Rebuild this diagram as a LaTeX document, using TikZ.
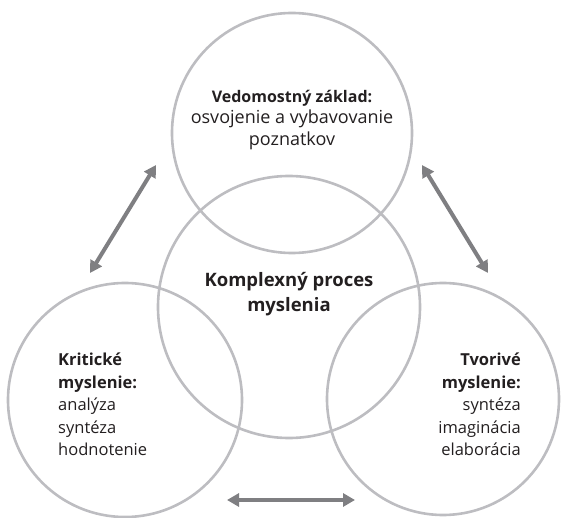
\documentclass[tikz,border=0pt]{standalone}
\usepackage{fontspec}
\setmainfont{Open Sans}
\usepackage{tikz}
\usetikzlibrary{arrows.meta}
\definecolor{KRing}{HTML}{BDBDC1}
\definecolor{KArrow}{HTML}{7F7F82}
\definecolor{KText}{HTML}{231F20}
\tikzset{
  ring/.style={circle,draw=KRing,line width=2.6pt,inner sep=0pt},
  link/.style={KArrow,line width=4pt,{Triangle[length=12pt,width=13pt]}-{Triangle[length=12pt,width=13pt]}},
  lbl/.style={text=KText,font=\fontsize{16.5}{22.5}\selectfont,inner sep=0pt}
}
\begin{document}
\begin{tikzpicture}[x=1pt,y=-1pt]
\path[use as bounding box] (0,0) rectangle (562,518);
% rings
\node[ring,minimum size=240pt] (base) at (292,133) {};
\node[ring,minimum size=262pt] (core) at (289,307) {};
\node[ring,minimum size=234pt] (crit) at (125,400) {};
\node[ring,minimum size=232pt] (creat) at (443,399) {};
% texts
\node[lbl,align=center,font=\fontsize{18}{21.5}\selectfont] (baseTxt) at (292,120) {{\fontsize{16}{21.5}\selectfont\textbf{Vedomostný základ:}}\\osvojenie a vybavovanie\\poznatkov};
\node[lbl,align=center,font=\fontsize{18.5}{25}\selectfont\bfseries] (coreTxt) at (289,294) {Komplexný proces\\myslenia};
\node[lbl,align=left,anchor=north west] (critTxt) at (58,353) {\textbf{Kritické}\\\textbf{myslenie:}\\analýza\\syntéza\\hodnotenie};
\node[lbl,align=right,anchor=north east] (creatTxt) at (521,353) {\textbf{Tvorivé}\\\textbf{myslenie:}\\syntéza\\imaginácia\\elaborácia};
% arrows
\coordinate (lTop) at (156,165);
\coordinate (lBot) at (90,273);
\coordinate (rTop) at (422,165);
\coordinate (rBot) at (488,273);
\coordinate (bLeft) at (227,500);
\coordinate (bRight) at (355,500);
\draw[link] (lTop) -- (lBot);
\draw[link] (rTop) -- (rBot);
\draw[link] (bLeft) -- (bRight);
\end{tikzpicture}
\end{document}
